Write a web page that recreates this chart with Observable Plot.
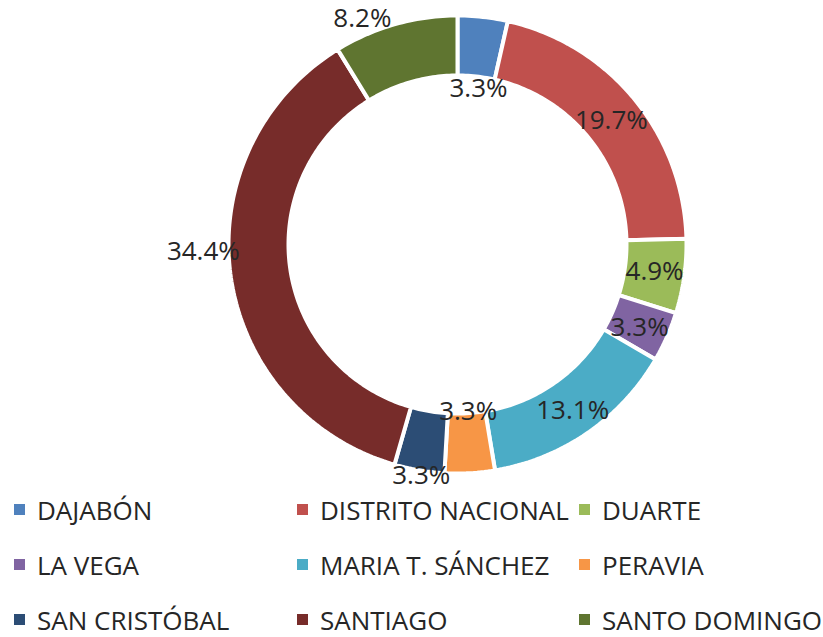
<!DOCTYPE html>
<html>
<head>
<meta charset="utf-8">
<script src="https://cdn.jsdelivr.net/npm/d3@7"></script>
<script src="https://cdn.jsdelivr.net/npm/@observablehq/plot@0.6"></script>
<style>
  html, body { margin: 0; padding: 0; background: #fff; }
  #wrap { position: relative; width: 823px; height: 637px; font-family: "Open Sans", sans-serif; }
  #legend { position: absolute; left: 0; top: 482px; width: 823px; }
  .item { position: absolute; display: flex; align-items: center; font-size: 26px; color: #262626; white-space: nowrap; }
  .sw { width: 11px; height: 11px; margin-right: 12px; flex: none; }
</style>
</head>
<body>
<div id="wrap"><div id="chart"></div><div id="legend"></div></div>
<script>
const provinces = ["DAJABÓN", "DISTRITO NACIONAL", "DUARTE", "LA VEGA", "MARIA T. SÁNCHEZ", "PERAVIA", "SAN CRISTÓBAL", "SANTIAGO", "SANTO DOMINGO"];
const percents = [3.3, 19.7, 4.9, 3.3, 13.1, 3.3, 3.3, 34.4, 8.2];
const percentLabels = ["3.3%", "19.7%", "4.9%", "3.3%", "13.1%", "3.3%", "3.3%", "34.4%", "8.2%"];
const colors = ["#4F81BD", "#C0504D", "#9BBB59", "#8064A2", "#4BACC6", "#F79646", "#2C4D75", "#772C2A", "#5F7530"];

// layout
const W = 823, H = 482, CX = 457, CY = 244;
const R_OUT = 229, R_IN = 169, R_LAB = 199;
// label nudges (px) to mimic the reference label placement
const nudgeX = [-1, 0, 0, 0, 2, 0, -3, -57, -41];
const nudgeY = [42, 2, 0, 3, 2, -32, 35, -20, -34];

const arcs = d3.pie().sort(null).value(d => d)(percents);
const pts = [];
arcs.forEach((a, i) => {
  const n = Math.max(8, Math.ceil((a.endAngle - a.startAngle) * 60));
  for (let k = 0; k <= n; k++) {
    const t = a.startAngle + (a.endAngle - a.startAngle) * k / n;
    pts.push({name: provinces[i], x: R_OUT * Math.sin(t), y: R_OUT * Math.cos(t)});
  }
  for (let k = n; k >= 0; k--) {
    const t = a.startAngle + (a.endAngle - a.startAngle) * k / n;
    pts.push({name: provinces[i], x: R_IN * Math.sin(t), y: R_IN * Math.cos(t)});
  }
});
const labels = arcs.map((a, i) => {
  const t = (a.startAngle + a.endAngle) / 2;
  return {text: percentLabels[i], x: R_LAB * Math.sin(t) + nudgeX[i], y: R_LAB * Math.cos(t) - nudgeY[i]};
});

const chart = Plot.plot({
  width: W, height: H,
  margin: 0,
  style: {overflow: "visible", fontFamily: "Open Sans, sans-serif", background: "transparent"},
  x: {domain: [-CX, W - CX], axis: null},
  y: {domain: [CY - H, CY], axis: null},
  color: {domain: provinces, range: colors},
  marks: [
    Plot.line(pts, {x: "x", y: "y", z: "name", fill: "name", stroke: "white", strokeWidth: 4, strokeLinejoin: "miter", curve: "linear-closed"}),
    Plot.text(labels, {x: "x", y: "y", text: "text", fontSize: 26, fill: "#262626"})
  ]
});
document.getElementById("chart").appendChild(chart);

const legend = document.getElementById("legend");
const colX = [14, 297, 579];
provinces.forEach((p, i) => {
  const el = document.createElement("div");
  el.className = "item";
  el.style.left = colX[i % 3] + "px";
  el.style.top = (Math.floor(i / 3) * 55) + "px";
  el.style.height = "55px";
  el.innerHTML = `<span class="sw" style="background:${colors[i]}"></span><span>${p}</span>`;
  legend.appendChild(el);
});
</script>
</body>
</html>
